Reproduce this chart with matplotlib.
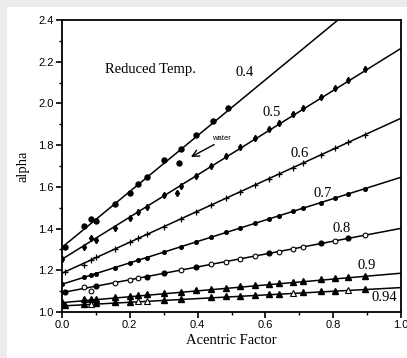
import matplotlib
matplotlib.use("Agg")
import matplotlib.pyplot as plt
from matplotlib.patches import Rectangle
from matplotlib.ticker import MultipleLocator, FormatStrFormatter

# fitted lines: alpha at acentric factor 0 and 1
line_x = [0.0, 1.0]
fit_04 = [1.310, 2.649]
fit_05 = [1.253, 2.264]
fit_06 = [1.186, 1.929]
fit_07 = [1.133, 1.646]
fit_08 = [1.093, 1.401]
fit_09 = [1.045, 1.186]
fit_094 = [1.029, 1.117]

# data points, Tr = 0.4 (filled circles)
w_04 = [0.01, 0.065, 0.085, 0.10, 0.155, 0.20, 0.225, 0.25, 0.30, 0.35, 0.395, 0.445, 0.49]
a_04 = [1.313, 1.414, 1.446, 1.436, 1.516, 1.569, 1.612, 1.649, 1.729, 1.782, 1.849, 1.916, 1.977]
w_water = [0.344]
a_water = [1.713]

# Tr = 0.5
w_05 = [0.0, 0.065, 0.085, 0.10, 0.155, 0.20, 0.225, 0.25, 0.30, 0.34, 0.35, 0.395, 0.44,
        0.485, 0.525, 0.57, 0.61, 0.64, 0.68, 0.71, 0.765, 0.805, 0.845, 0.895]
a_05 = [1.254, 1.310, 1.353, 1.344, 1.405, 1.450, 1.478, 1.503, 1.561, 1.572, 1.603, 1.654, 1.701,
        1.748, 1.790, 1.834, 1.876, 1.906, 1.947, 1.977, 2.032, 2.073, 2.113, 2.164]

# Tr = 0.6 (plus)
w_06 = [0.01, 0.065, 0.085, 0.10, 0.155, 0.20, 0.225, 0.25, 0.30, 0.35, 0.395, 0.44,
        0.485, 0.525, 0.57, 0.61, 0.64, 0.68, 0.71, 0.765, 0.805, 0.845, 0.895]
a_06 = [1.193, 1.225, 1.249, 1.262, 1.301, 1.335, 1.353, 1.372, 1.409, 1.446, 1.479, 1.513,
        1.546, 1.576, 1.610, 1.639, 1.662, 1.691, 1.714, 1.754, 1.784, 1.814, 1.851]

# Tr = 0.7 (small dots)
w_07 = [0.0, 0.065, 0.085, 0.10, 0.155, 0.20, 0.225, 0.25, 0.30, 0.35, 0.395, 0.44,
        0.485, 0.525, 0.57, 0.61, 0.64, 0.68, 0.71, 0.765, 0.805, 0.845, 0.895]
a_07 = [1.133, 1.166, 1.177, 1.184, 1.213, 1.236, 1.248, 1.261, 1.287, 1.313, 1.336, 1.359,
        1.382, 1.402, 1.425, 1.446, 1.461, 1.482, 1.497, 1.525, 1.546, 1.566, 1.592]

# Tr = 0.8 (filled and open circles)
w_08_filled = [0.01, 0.10, 0.25, 0.30, 0.395, 0.61, 0.765, 0.845]
a_08_filled = [1.096, 1.124, 1.170, 1.185, 1.215, 1.281, 1.329, 1.353]
w_08_open = [0.065, 0.085, 0.155, 0.20, 0.225, 0.35, 0.44, 0.485, 0.525, 0.57, 0.64, 0.68,
             0.71, 0.805, 0.895]
a_08_open = [1.119, 1.102, 1.141, 1.155, 1.162, 1.201, 1.229, 1.242, 1.255, 1.269, 1.290, 1.302,
             1.312, 1.341, 1.369]

# Tr = 0.9 (filled triangles)
w_09 = [0.0, 0.065, 0.085, 0.10, 0.155, 0.20, 0.225, 0.25, 0.30, 0.35, 0.395, 0.44,
        0.485, 0.525, 0.57, 0.61, 0.64, 0.68, 0.71, 0.765, 0.805, 0.845, 0.895]
a_09 = [1.049, 1.062, 1.061, 1.063, 1.071, 1.077, 1.081, 1.084, 1.091, 1.098, 1.105, 1.111,
        1.117, 1.123, 1.129, 1.135, 1.139, 1.145, 1.149, 1.157, 1.163, 1.168, 1.175]

# Tr = 0.94 (filled and open triangles)
w_094_filled = [0.01, 0.065, 0.10, 0.155, 0.20, 0.30, 0.35, 0.44, 0.485, 0.525, 0.57, 0.61,
                0.64, 0.71, 0.765, 0.805, 0.895]
a_094_filled = [1.033, 1.038, 1.041, 1.046, 1.050, 1.058, 1.063, 1.071, 1.075, 1.078, 1.082, 1.086,
                1.088, 1.094, 1.099, 1.103, 1.111]
w_094_open = [0.085, 0.225, 0.25, 0.68, 0.845]
a_094_open = [1.036, 1.052, 1.051, 1.092, 1.106]

line_labels = ["0.4", "0.5", "0.6", "0.7", "0.8", "0.9", "0.94"]
label_x = [0.54, 0.62, 0.70, 0.77, 0.825, 0.90, 0.95]
label_y = [2.15, 1.955, 1.762, 1.566, 1.40, 1.225, 1.071]

fig = plt.figure(figsize=(4.07, 3.58), dpi=100, facecolor="#ebebeb")
# white page inside the grey frame
fig.patches.append(Rectangle((7 / 407, 0), 1, 1 - 7 / 358, transform=fig.transFigure,
                             facecolor="white", edgecolor="none", zorder=-5))
ax = fig.add_axes([62 / 407, 1 - 312 / 358, 339 / 407, 292 / 358])
ax.set_zorder(2)

for fit in [fit_04, fit_05, fit_06, fit_07, fit_08, fit_09, fit_094]:
    ax.plot(line_x, fit, color="black", lw=1.1, zorder=2)

mk = dict(color="black", ls="none", zorder=3)
ax.plot(w_04, a_04, marker="o", ms=3.6, **mk)
ax.plot(w_water, a_water, marker="o", ms=3.6, **mk)
ax.plot(w_05, a_05, marker="d", ms=3.2, **mk)
ax.plot(w_06, a_06, marker="+", ms=5, mew=0.9, **mk)
ax.plot(w_07, a_07, marker="o", ms=2.6, **mk)
ax.plot(w_08_filled, a_08_filled, marker="o", ms=3.4, **mk)
ax.plot(w_08_open, a_08_open, marker="o", ms=3.4, mfc="white", mew=0.8, **mk)
ax.plot(w_09, a_09, marker="^", ms=4, **mk)
ax.plot(w_094_filled, a_094_filled, marker="^", ms=4, **mk)
ax.plot(w_094_open, a_094_open, marker="^", ms=4, mfc="white", mew=0.8, **mk)

for txt, x, y in zip(line_labels, label_x, label_y):
    ax.text(x, y, txt, fontsize=10.5, family="Liberation Serif", ha="center", va="center",
            zorder=4)

ax.text(0.127, 2.165, "Reduced Temp.", fontsize=10.5, family="Liberation Serif",
        ha="left", va="center")
ax.text(0.47, 1.832, "water", fontsize=5.5, family="Liberation Sans", ha="center", va="center")
ax.annotate("", xy=(0.373, 1.737), xytext=(0.456, 1.809),
            arrowprops=dict(arrowstyle="->", lw=1.0, color="black", mutation_scale=12))

ax.set_xlim(0, 1.0)
ax.set_ylim(1.0, 2.4)
ax.xaxis.set_major_locator(MultipleLocator(0.2))
ax.xaxis.set_minor_locator(MultipleLocator(0.1))
ax.yaxis.set_major_locator(MultipleLocator(0.2))
ax.yaxis.set_minor_locator(MultipleLocator(0.1))
ax.xaxis.set_major_formatter(FormatStrFormatter("%.1f"))
ax.yaxis.set_major_formatter(FormatStrFormatter("%.1f"))
ax.tick_params(which="major", direction="out", length=4, width=1.2, labelsize=8, pad=2)
ax.tick_params(which="minor", direction="out", length=2.5, width=1.0)
for lab in ax.get_xticklabels() + ax.get_yticklabels():
    lab.set_family("Liberation Sans")
for sp in ax.spines.values():
    sp.set_linewidth(1.3)

ax.set_xlabel("Acentric Factor", fontsize=10.5, family="Liberation Serif", labelpad=3)
ax.set_ylabel("alpha", fontsize=10.5, family="Liberation Serif", labelpad=6)

fig.savefig("out.png", dpi=100, facecolor=fig.get_facecolor())
